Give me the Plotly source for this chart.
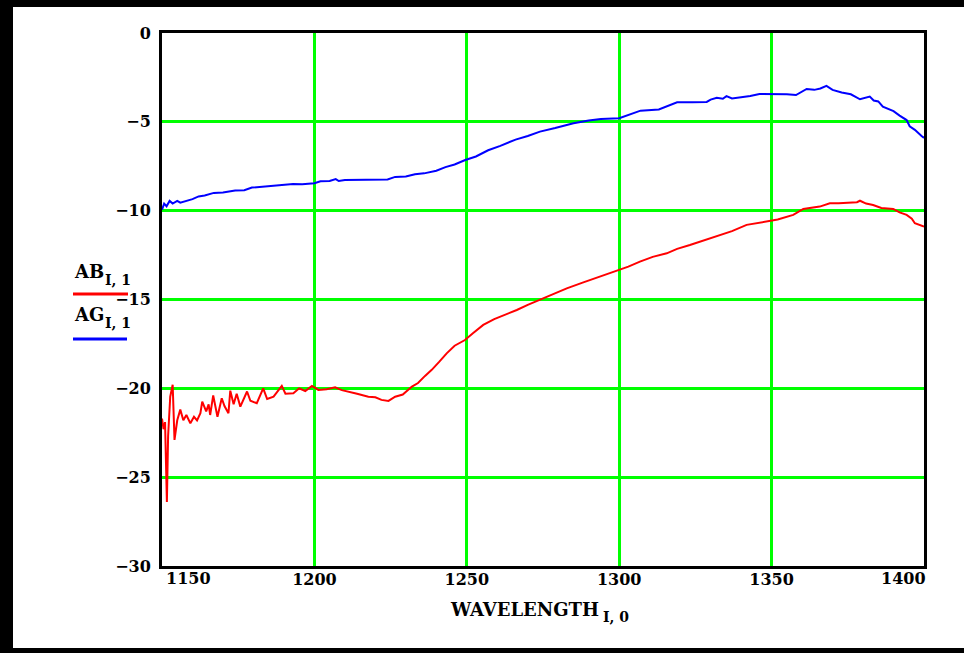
import plotly.graph_objects as go

# AB (red)
wl_ab = [1150, 1150.5, 1151, 1151.6, 1152, 1152.7, 1153.5, 1154.1, 1155, 1156, 1157, 1158,
         1159.3, 1160.5, 1161.5, 1162.6, 1163.2, 1164.5, 1165.3, 1165.8, 1166.8, 1168.2,
         1169.6, 1170.5, 1171.8, 1172.4, 1173.5, 1174.5, 1175.7, 1177.9, 1179, 1181.1,
         1183.2, 1184.5, 1186.6, 1189.3, 1190.5, 1193.1, 1195, 1197, 1199.2, 1201.3, 1204,
         1206.8, 1209, 1211.2, 1214, 1217.7, 1220, 1222, 1224.3, 1226.5, 1229, 1232, 1234,
         1236.3, 1238.5, 1241, 1243.4, 1246, 1249.4, 1252, 1255.4, 1259, 1262, 1266.4, 1270,
         1274, 1278, 1282.8, 1288, 1293.7, 1299.2, 1303, 1306.8, 1311, 1315.6, 1319, 1323.2,
         1328, 1332, 1337, 1341.8, 1345, 1348.4, 1352, 1357.1, 1360.4, 1365.8, 1369.1, 1372,
         1375.7, 1378, 1379, 1381, 1383.3, 1386, 1389.9, 1392, 1394.3, 1396, 1397, 1400]
ab = [-21.7, -22.3, -21.9, -26.4, -22.7, -20.47, -19.8, -22.9, -21.8, -21.2, -21.8, -21.5,
      -21.97, -21.6, -21.8, -21.4, -20.75, -21.3, -20.9, -21.5, -20.4, -21.6,
      -20.56, -21.0, -21.4, -20.13, -20.9, -20.3, -21.03, -20.18, -20.7, -20.84,
      -20.0, -20.6, -20.47, -19.86, -20.3, -20.28, -20.0, -20.15, -19.86, -20.09, -20.05,
      -19.94, -20.1, -20.18, -20.3, -20.47, -20.5, -20.65, -20.71, -20.47, -20.35, -19.9, -19.7,
      -19.3, -18.96, -18.5, -18.03, -17.6, -17.28, -16.9, -16.43, -16.1, -15.9, -15.59, -15.3,
      -15.02, -14.7, -14.37, -14.05, -13.71, -13.34, -13.15, -12.87, -12.6, -12.4, -12.15, -11.93,
      -11.65, -11.46, -11.15, -10.8, -10.7, -10.62, -10.5, -10.24, -9.9, -9.77, -9.58, -9.58,
      -9.55, -9.52, -9.44, -9.6, -9.68, -9.85, -9.9, -10.1, -10.24, -10.45, -10.71, -10.9]

# AG (blue)
wl_ag = [1150, 1150.7, 1151.5, 1152.5, 1153.5, 1155, 1156, 1158, 1160, 1162, 1164, 1167,
         1170, 1174, 1177, 1179.5, 1185, 1191, 1193, 1196, 1200, 1202, 1205, 1207, 1208,
         1210, 1218, 1224, 1226.5, 1230, 1233, 1236, 1240, 1243, 1246, 1249.5, 1253, 1257,
         1261, 1266, 1270, 1274, 1279, 1285, 1290, 1294, 1300, 1303, 1307, 1313, 1316, 1319,
         1324, 1328.7, 1330, 1332, 1334, 1335.2, 1337, 1340, 1343, 1346, 1350.5, 1355, 1358,
         1360, 1361.5, 1364, 1366, 1368, 1370, 1373, 1376, 1379, 1381, 1382.2, 1383.5, 1385,
         1386.5, 1388, 1390, 1392, 1394.3, 1395.3, 1397, 1399.2, 1400]
ag = [-9.95, -9.6, -9.75, -9.45, -9.6, -9.45, -9.55, -9.45, -9.35, -9.2, -9.15, -9.0,
      -8.98, -8.87, -8.85, -8.7, -8.63, -8.56, -8.5, -8.52, -8.46, -8.35, -8.33, -8.22, -8.33,
      -8.27, -8.26, -8.24, -8.1, -8.08, -7.95, -7.9, -7.75, -7.55, -7.4, -7.15, -6.95, -6.6,
      -6.35, -6.0, -5.8, -5.55, -5.35, -5.08, -4.92, -4.84, -4.8, -4.6, -4.37, -4.3, -4.1, -3.9,
      -3.9, -3.88, -3.75, -3.65, -3.7, -3.55, -3.68, -3.62, -3.55, -3.43, -3.43, -3.45, -3.49,
      -3.3, -3.15, -3.2, -3.12, -2.98, -3.2, -3.35, -3.45, -3.73, -3.65, -3.58, -3.8, -3.85,
      -4.15, -4.25, -4.4, -4.65, -4.9, -5.25, -5.45, -5.8, -5.9]

x_ticks = [1200, 1250, 1300, 1350]
y_ticks = [0, -5, -10, -15, -20, -25, -30]
y_text = ['0', '\u22125', '\u221210', '\u221215', '\u221220', '\u221225', '\u221230']

W, H = 964, 653
L, R, T, B = 162, 924, 33, 566   # plot area in pixels

def px(x):
    return (x - L) / (R - L)

def py(y):
    return (B - y) / (B - T)

FONT = 'DejaVu Serif'

fig = go.Figure()
fig.add_trace(go.Scatter(x=wl_ab, y=ab, mode='lines', line=dict(color='#ff0000', width=2)))
fig.add_trace(go.Scatter(x=wl_ag, y=ag, mode='lines', line=dict(color='#0000ff', width=2)))

fig.update_layout(
    width=W, height=H,
    margin=dict(l=L, r=W - R, t=T, b=H - B),
    paper_bgcolor='white', plot_bgcolor='white',
    showlegend=False,
    font=dict(family=FONT, size=16, color='black', weight='bold'),
)
fig.update_xaxes(range=[1150, 1400], tickvals=x_ticks, showgrid=True,
                 gridcolor='#00ff00', gridwidth=3, zeroline=False,
                 showline=True, linecolor='black', linewidth=3, mirror=True,
                 ticks='', ticklabelstandoff=-3,
                 tickfont=dict(family=FONT, size=16, weight='bold'))
fig.update_yaxes(range=[-30, 0], tickvals=y_ticks, ticktext=y_text, showgrid=True,
                 gridcolor='#00ff00', gridwidth=3, zeroline=False,
                 showline=True, linecolor='black', linewidth=3, mirror=True,
                 ticks='', ticklabelstandoff=5,
                 tickfont=dict(family=FONT, size=16, weight='bold'))

# end labels of the x axis sit inside the axis
fig.add_annotation(x=1150, y=0, xref='x', yref='paper', text='1150', showarrow=False,
                   xanchor='left', yanchor='top', xshift=2, yshift=-1,
                   font=dict(size=16))
fig.add_annotation(x=1400, y=0, xref='x', yref='paper', text='1400', showarrow=False,
                   xanchor='right', yanchor='top', xshift=4, yshift=-1,
                   font=dict(size=16))

# axis title and legend texts, each with its subscript
labels = [
    ('WAVELENGTH', 448, 609, 'I, 0', 601, 617),
    ('AB', 72, 271, 'I, 1', 103, 280),
    ('AG', 72, 314, 'I, 1', 103, 323),
]
for txt, tx, ty, sub, sx, sy in labels:
    fig.add_annotation(x=px(tx), y=py(ty), xref='paper', yref='paper', text=txt,
                       showarrow=False, xanchor='left', yanchor='middle',
                       font=dict(size=18, weight='bold'))
    fig.add_annotation(x=px(sx), y=py(sy), xref='paper', yref='paper', text=sub,
                       showarrow=False, xanchor='left', yanchor='middle',
                       font=dict(size=14, weight='bold'))

fig.add_shape(type='line', xref='paper', yref='paper', x0=px(73), x1=px(128),
              y0=py(294), y1=py(294), line=dict(color='#ff0000', width=3))
fig.add_shape(type='line', xref='paper', yref='paper', x0=px(73), x1=px(127),
              y0=py(339), y1=py(339), line=dict(color='#0000ff', width=3))

# black frame bars (top, left, bottom)
for x0, y0, x1, y1 in [(0, 0, W, 7), (0, 0, 13, H), (0, 648, W, H)]:
    fig.add_shape(type='rect', xref='paper', yref='paper',
                  x0=px(x0), x1=px(x1), y0=py(y0), y1=py(y1),
                  fillcolor='black', line=dict(width=0))

# page body has an 8px default margin; drop it so the figure sits at 0,0
fig.write_html("out.html", config={'displayModeBar': False},
               post_script="document.body.style.margin='0';")
